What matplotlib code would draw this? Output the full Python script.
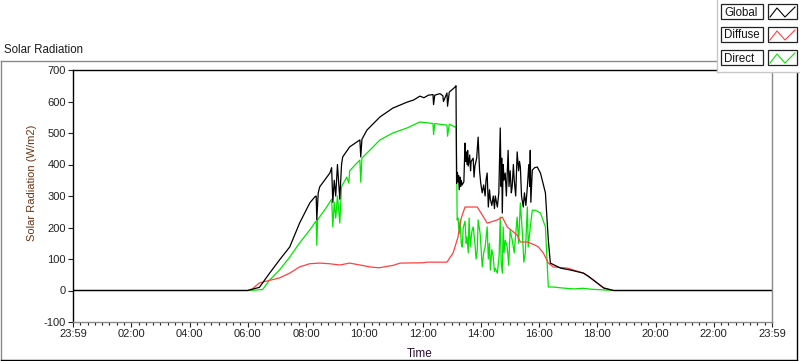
import matplotlib
matplotlib.use('Agg')
import matplotlib.pyplot as plt
from matplotlib.lines import Line2D
from matplotlib.patches import Rectangle
from matplotlib.ticker import MultipleLocator

plt.rcParams['font.family'] = ['Liberation Sans', 'DejaVu Sans']
plt.rcParams['font.size'] = 8
plt.rcParams['axes.unicode_minus'] = False

# Donnees (heures depuis 23:59, W/m2)
t_global = [0, 5.99, 6.40, 6.75, 7.09, 7.44, 7.78, 8.13, 8.30, 8.35, 8.37, 8.42, 8.47,
            8.82, 8.88, 8.92, 8.97, 9.02, 9.08, 9.16, 9.22, 9.26, 9.50, 9.85, 9.88,
            9.92, 10.09, 10.54, 10.98, 11.47, 11.70, 11.91, 12.05, 12.20, 12.36, 12.38,
            12.42, 12.60, 12.70, 12.72, 12.84, 12.86, 12.92, 13.12, 13.15, 13.17,
            13.20, 13.22, 13.24, 13.26, 13.29, 13.31, 13.33, 13.36, 13.42, 13.46, 13.48,
            13.50, 13.53, 13.55, 13.57, 13.62, 13.65, 13.67, 13.74, 13.77, 13.80, 13.86,
            13.91, 13.96, 14.00, 14.05, 14.10, 14.15, 14.18, 14.22, 14.26, 14.30, 14.33,
            14.38, 14.43, 14.47, 14.50, 14.57, 14.62, 14.67, 14.70, 14.72, 14.74, 14.77,
            14.80, 14.84, 14.88, 14.94, 14.97, 15.01, 15.05, 15.08, 15.12, 15.15, 15.20,
            15.25, 15.30, 15.33, 15.36, 15.40, 15.46, 15.50, 15.55, 15.60, 15.65, 15.68,
            15.70, 15.72, 15.77, 15.85, 15.94, 16.05, 16.22, 16.32, 16.39, 16.74,
            17.08, 17.53, 17.70, 17.87, 18.22, 18.56, 24]
v_global = [0, 0, 10, 55, 97, 138, 214, 278, 297, 300, 224, 310, 329,
            373, 390, 280, 350, 300, 400, 290, 400, 424, 456, 478, 424,
            480, 509, 551, 579, 598, 605, 617, 612, 620, 622, 590,
            620, 625, 618, 600, 627, 585, 630, 646, 650, 340,
            375, 345, 365, 320, 360, 330, 350, 335, 345, 468, 410,
            440, 400, 445, 395, 430, 380, 410, 420, 360, 395, 420,
            487, 380, 340, 310, 335, 300, 350, 373, 265, 320, 290,
            270, 300, 260, 300, 265, 310, 516, 330, 420, 246, 400,
            350, 373, 300, 445, 330, 380, 310, 330, 400, 350, 300,
            440, 380, 410, 392, 300, 265, 310, 270, 329, 400, 330,
            445, 280, 382, 390, 392, 373, 310, 160, 87, 71,
            65, 55, 45, 33, 8, 0, 0]

t_diffuse = [0, 6.0, 6.16, 6.40, 7.09, 7.44, 7.78, 8.13, 8.47, 8.8, 9.16, 9.50, 9.85,
             10.19, 10.5, 11.0, 11.23, 12.0, 12.16, 12.84, 13.05, 13.22, 13.33, 13.46,
             13.88, 14.05, 14.22, 14.57, 14.74, 14.91, 15.25, 15.36, 15.60, 15.87, 15.98,
             16.15, 16.32, 16.49, 16.98, 17.53, 17.87, 18.22, 18.56, 24]
v_diffuse = [0, 0, 5, 24, 40, 55, 75, 85, 87, 85, 81, 87, 81,
             75, 72, 80, 87, 88, 90, 90, 119, 170, 230, 265,
             265, 240, 214, 224, 233, 202, 176, 154, 154, 144, 138,
             119, 87, 75, 71, 55, 33, 8, 0, 0]

t_direct = [0, 6.06, 6.51, 6.75, 7.09, 7.44, 7.78, 8.13, 8.30, 8.35, 8.37, 8.40, 8.71,
            8.88, 8.92, 8.97, 9.02, 9.08, 9.16, 9.22, 9.40, 9.47, 9.50, 9.75, 9.85,
            9.88, 9.92, 10.09, 10.54, 10.98, 11.47, 11.91, 12.20, 12.36, 12.38, 12.42,
            12.84, 12.86, 12.92, 13.12, 13.16, 13.19,
            13.22, 13.26, 13.29, 13.33, 13.36, 13.40, 13.46, 13.50, 13.53, 13.57, 13.60,
            13.64, 13.70, 13.74, 13.80, 13.84, 13.88, 13.91, 13.98, 14.05, 14.10, 14.15,
            14.22, 14.26, 14.30, 14.33, 14.38, 14.43, 14.47, 14.50, 14.57, 14.63, 14.67,
            14.70, 14.74, 14.77, 14.80, 14.84, 14.91, 14.96, 15.01, 15.08, 15.15, 15.20,
            15.25, 15.30, 15.36, 15.43, 15.48, 15.53, 15.60, 15.63, 15.70, 15.77, 15.87,
            16.05, 16.22, 16.32, 16.49, 16.8, 17.2, 17.5, 17.8, 18.2, 18.56, 24]
v_direct = [0, 0, 3, 33, 65, 106, 151, 192, 215, 220, 144, 225, 265,
            290, 202, 280, 230, 300, 214, 330, 360, 341, 380, 405, 414,
            344, 420, 436, 478, 500, 516, 535, 532, 530, 495, 530,
            525, 490, 528, 519, 520, 224,
            230, 180, 224, 150, 138, 200, 220, 150, 170, 120, 230,
            140, 190, 202, 150, 100, 128, 224, 180, 75, 120, 138,
            202, 100, 150, 65, 130, 106, 60, 70, 55, 110, 233,
            90, 55, 202, 120, 160, 138, 80, 192, 160, 120, 180,
            233, 150, 278, 182, 90, 119, 265, 138, 200, 255, 255,
            246, 202, 11, 11, 8, 5, 7, 4, 2, 0, 0]

x_ticks = [0, 2, 4, 6, 8, 10, 12, 14, 16, 18, 20, 22, 24]
x_labels = ['23:59', '02:00', '04:00', '06:00', '08:00', '10:00', '12:00',
            '14:00', '16:00', '18:00', '20:00', '22:00', '23:59']

W, H = 800, 361


def fx(x):
    return x / W


def fy(y):
    return 1 - y / H


fig = plt.figure(figsize=(8, 3.61), dpi=100)
fig.patch.set_facecolor('white')
ax = fig.add_axes([fx(73), fy(322), (772 - 73) / W, (322 - 70) / H])

ax.plot(t_direct, v_direct, color='#00e600', lw=0.9)
ax.plot(t_diffuse, v_diffuse, color='#ff4040', lw=0.9)
ax.plot(t_global, v_global, color='black', lw=0.9)

ax.set_xlim(0, 24)
ax.set_ylim(-100, 700)
ax.set_yticks(range(-100, 701, 100))
ax.set_xticks(x_ticks)
ax.set_xticklabels(x_labels)
ax.xaxis.set_minor_locator(MultipleLocator(0.25))
ax.tick_params(axis='both', which='major', direction='out', length=3.5,
               width=0.8, colors='#222222', labelsize=8, pad=1.5)
ax.tick_params(axis='x', which='minor', direction='out', length=2.5,
               width=0.8, colors='#222222')

for s in ['left', 'top']:
    ax.spines[s].set_color('black')
    ax.spines[s].set_linewidth(1)
for s in ['right', 'bottom']:
    ax.spines[s].set_color('#8a8a8a')
    ax.spines[s].set_linewidth(1)

fig.text(fx(32), fy(183), 'Solar Radiation (W/m2)', rotation=90,
         ha='center', va='center', color='#6b3514', fontsize=8)
fig.text(fx(420), fy(354), 'Time', ha='center', va='center',
         color='#2a1030', fontsize=8.5)
fig.text(fx(4), fy(50), 'Solar Radiation', ha='left', va='center',
         color='#1a1a1a', fontsize=8.3)

# cadre exterieur
fig.add_artist(Line2D([fx(0.5), fx(717)], [fy(61), fy(61)], color='#8a8a8a', lw=1))
fig.add_artist(Line2D([fx(1), fx(1)], [fy(61), fy(360)], color='#8a8a8a', lw=1))
fig.add_artist(Line2D([fx(1), fx(797)], [fy(360), fy(360)], color='black', lw=1))
fig.add_artist(Line2D([fx(797), fx(797)], [fy(72), fy(360)], color='black', lw=1))

# panneau de legende
fig.add_artist(Rectangle((fx(717), fy(72)), (800 - 717) / W, 72 / H,
                         transform=fig.transFigure, facecolor='white',
                         edgecolor='none', zorder=5))
fig.add_artist(Line2D([fx(717), fx(717)], [fy(0), fy(72)], color='#c8c8c8', lw=1, zorder=6))
fig.add_artist(Line2D([fx(717), fx(800)], [fy(72), fy(72)], color='#c8c8c8', lw=1, zorder=6))

noms = ['Global', 'Diffuse', 'Direct']
couleurs = ['black', '#ff4040', '#00e600']
for i, (nom, c) in enumerate(zip(noms, couleurs)):
    y0 = 4 + i * 23
    fig.add_artist(Rectangle((fx(721), fy(y0 + 15)), 42 / W, 15 / H,
                             transform=fig.transFigure, facecolor='white',
                             edgecolor='#222222', lw=0.9, zorder=7))
    fig.add_artist(Rectangle((fx(768), fy(y0 + 15)), 29 / W, 15 / H,
                             transform=fig.transFigure, facecolor='white',
                             edgecolor='#222222', lw=0.9, zorder=7))
    fig.text(fx(724), fy(y0 + 11.5), nom, ha='left', va='baseline',
             fontsize=8.3, color='#111111', zorder=8)
    fig.add_artist(Line2D([fx(770), fx(777), fx(785), fx(795)],
                          [fy(y0 + 13), fy(y0 + 4), fy(y0 + 13), fy(y0 + 3)],
                          color=c, lw=0.8, zorder=8))

plt.savefig('out.png', dpi=100)
